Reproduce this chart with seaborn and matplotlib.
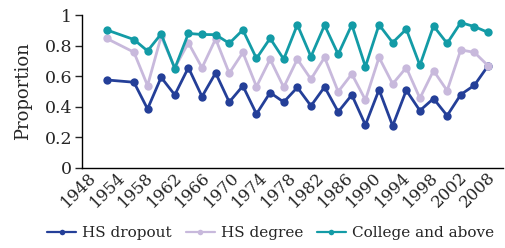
import numpy as np
import pandas as pd
import matplotlib
matplotlib.use("Agg")
import matplotlib.pyplot as plt
import seaborn as sns
from matplotlib.lines import Line2D

years = [1948] + list(range(1952, 2005, 2))
hs_dropout = [0.575, 0.560, 0.385, 0.592, 0.477, 0.656, 0.466, 0.621, 0.430, 0.536,
              0.352, 0.492, 0.430, 0.526, 0.405, 0.529, 0.366, 0.477, 0.280, 0.511,
              0.274, 0.507, 0.374, 0.453, 0.341, 0.479, 0.540, 0.667]
hs_degree = [0.847, 0.757, 0.538, 0.860, 0.655, 0.818, 0.655, 0.844, 0.619, 0.755,
             0.531, 0.711, 0.527, 0.711, 0.580, 0.723, 0.498, 0.614, 0.444, 0.723,
             0.549, 0.656, 0.455, 0.636, 0.505, 0.772, 0.756, 0.669]
college = [0.903, 0.840, 0.765, 0.877, 0.650, 0.880, 0.873, 0.872, 0.815, 0.903,
           0.716, 0.848, 0.711, 0.937, 0.728, 0.934, 0.743, 0.937, 0.662, 0.937,
           0.820, 0.908, 0.671, 0.929, 0.815, 0.951, 0.925, 0.887]
series_names = ["HS dropout", "HS degree", "College and above"]
tick_labels = ["1948", "1954", "1958", "1962", "1966", "1970", "1974", "1978",
               "1982", "1986", "1990", "1994", "1998", "2002", "2008"]
colors = ["#243f98", "#c8b9dc", "#139ba6"]

df = pd.concat([
    pd.DataFrame({"year": years, "value": v, "group": n})
    for n, v in zip(series_names, [hs_dropout, hs_degree, college])
])

sns.set_style("white")
plt.rcParams["font.family"] = ["DejaVu Serif"]

fig = plt.figure(figsize=(5.06, 2.48), dpi=100)
ax = fig.add_axes([0.162, 0.324, 0.832, 0.615])

sns.lineplot(data=df, x="year", y="value", hue="group", hue_order=series_names,
             palette=colors, marker="o", markersize=6, markeredgewidth=0,
             linewidth=2.0, ax=ax, legend=False)

ax.set_ylim(0, 1)
ax.set_xlim(1944.37, 2006.2)
ax.set_yticks([0, 0.2, 0.4, 0.6, 0.8, 1.0])
ax.set_yticklabels(["0", "0.2", "0.4", "0.6", "0.8", "1"], fontsize=12.5)
ax.set_xticks(np.linspace(1947.0, 2005.6, len(tick_labels)))
ax.set_xticklabels(tick_labels, rotation=45, ha="right", fontsize=12)
ax.tick_params(axis="x", length=0, pad=1)
ax.tick_params(axis="y", length=5, width=1, direction="out", left=True, pad=2)
ax.set_xlabel("")
ax.set_ylabel("Proportion", fontsize=13, labelpad=9)
for s in ["top", "right"]:
    ax.spines[s].set_visible(False)
for s in ["left", "bottom"]:
    ax.spines[s].set_color("black")
    ax.spines[s].set_linewidth(1)

handles = [Line2D([0], [0], color=c, lw=1.6, marker="o", markersize=4, markeredgewidth=0)
           for c in colors]
fig.legend(handles, series_names, loc="center", bbox_to_anchor=(0.535, 0.06),
           ncol=3, frameon=False, fontsize=11, handlelength=1.9, handletextpad=0.4,
           columnspacing=0.9, borderpad=0)

fig.savefig("out.png", dpi=100)
